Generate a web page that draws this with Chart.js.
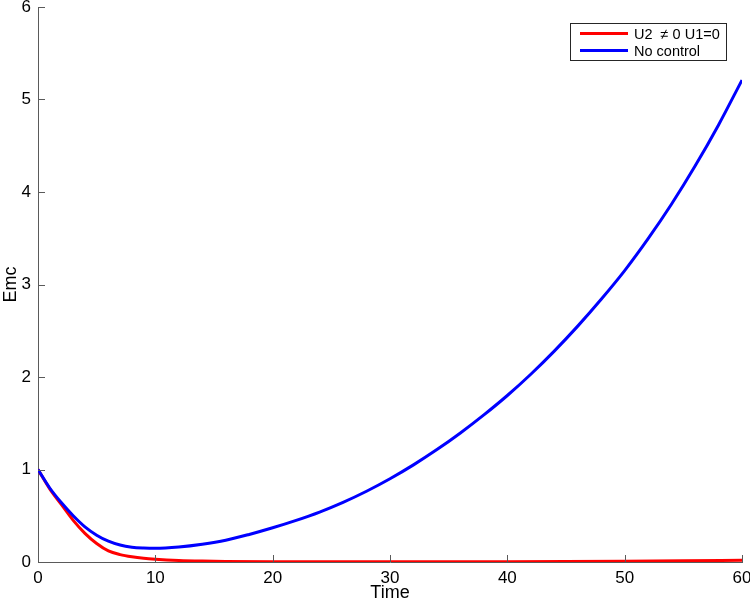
<!DOCTYPE html>
<html>
<head>
<meta charset="utf-8">
<script src="https://cdn.jsdelivr.net/npm/chart.js@4.4.1/dist/chart.umd.min.js"></script>
<style>
  html, body { margin: 0; padding: 0; background: #fff; }
  #wrap { width: 750px; height: 603px; }
</style>
</head>
<body>
<div id="wrap"><canvas id="emcChart" width="750" height="603"></canvas></div>
<script>
// Data
const timeBlue = [0, 1, 2, 3, 4, 5, 6, 7, 8, 9, 10, 12, 14, 16, 18, 20, 22, 24, 26, 28, 30, 32, 34, 36, 38, 40, 42, 44, 46, 48, 50, 52, 54, 56, 58, 60];
const noControl = [1.0, 0.80, 0.64, 0.50, 0.38, 0.29, 0.225, 0.183, 0.16, 0.151, 0.148, 0.162, 0.192, 0.235, 0.298, 0.37, 0.45, 0.54, 0.645, 0.765, 0.90, 1.05, 1.215, 1.395, 1.59, 1.80, 2.03, 2.28, 2.55, 2.84, 3.15, 3.495, 3.87, 4.28, 4.725, 5.21];

const timeRed = [0, 1, 2, 3, 4, 5, 6, 7, 8, 9, 10, 12, 14, 16, 20, 30, 40, 50, 55, 60];
const withU2 = [1.0, 0.79, 0.62, 0.45, 0.31, 0.20, 0.12, 0.08, 0.056, 0.04, 0.03, 0.017, 0.01, 0.006, 0.003, 0.002, 0.003, 0.008, 0.013, 0.02];

const xTicks = [0, 10, 20, 30, 40, 50, 60];
const yTicks = [0, 1, 2, 3, 4, 5, 6];

const labels = ['U2  \u2260 0 U1=0', 'No control'];
const colors = ['#ff0000', '#0000ff'];

const FONT = 'Liberation Sans, Arial, Helvetica, sans-serif';
const AXIS_COLOR = '#5a5a5a';

function toPoints(xs, ys) {
  return xs.map((x, i) => ({ x: x, y: ys[i] }));
}

// inward tick marks, MATLAB style
const inwardTicks = {
  id: 'inwardTicks',
  afterDatasetsDraw(chart) {
    const ctx = chart.ctx;
    const xs = chart.scales.x;
    const ys = chart.scales.y;
    const len = 7;
    ctx.save();
    ctx.strokeStyle = AXIS_COLOR;
    ctx.lineWidth = 1;
    ctx.beginPath();
    xTicks.forEach(v => {
      const px = Math.round(xs.getPixelForValue(v)) + 0.5;
      ctx.moveTo(px, ys.bottom);
      ctx.lineTo(px, ys.bottom - len);
    });
    yTicks.forEach(v => {
      const py = Math.round(ys.getPixelForValue(v)) + 0.5;
      ctx.moveTo(xs.left, py);
      ctx.lineTo(xs.left + len, py);
    });
    ctx.stroke();
    ctx.restore();
  }
};

// boxed legend in the upper right corner
const boxLegend = {
  id: 'boxLegend',
  afterDraw(chart) {
    const ctx = chart.ctx;
    const boxX = 570.5, boxY = 23.5, boxW = 156, boxH = 37;
    ctx.save();
    ctx.fillStyle = '#fff';
    ctx.fillRect(boxX, boxY, boxW, boxH);
    ctx.strokeStyle = '#262626';
    ctx.lineWidth = 1;
    ctx.strokeRect(boxX, boxY, boxW, boxH);
    ctx.font = '14.5px ' + FONT;
    ctx.textBaseline = 'middle';
    chart.data.datasets.forEach((ds) => {
      const ly = [33.5, 50.5][ds.legendRow];
      ctx.strokeStyle = ds.borderColor;
      ctx.lineWidth = 3;
      ctx.beginPath();
      ctx.moveTo(580, ly);
      ctx.lineTo(628, ly);
      ctx.stroke();
      ctx.fillStyle = '#000';
      ctx.fillText(ds.label, 634, ly + 1);
    });
    ctx.restore();
  }
};

new Chart(document.getElementById('emcChart'), {
  type: 'line',
  data: {
    datasets: [
      {
        label: labels[0],
        data: toPoints(timeRed, withU2),
        borderColor: colors[0],
        borderWidth: 3,
        pointRadius: 0,
        fill: false,
        cubicInterpolationMode: 'monotone',
        order: 1,
        legendRow: 0
      },
      {
        label: labels[1],
        data: toPoints(timeBlue, noControl),
        borderColor: colors[1],
        borderWidth: 3,
        pointRadius: 0,
        fill: false,
        cubicInterpolationMode: 'monotone',
        order: 0,
        legendRow: 1
      }
    ]
  },
  options: {
    responsive: false,
    animation: false,
    devicePixelRatio: 1,
    layout: { padding: { top: 7, right: 8, left: 0, bottom: 0 } },
    plugins: {
      legend: { display: false },
      tooltip: { enabled: false }
    },
    scales: {
      x: {
        type: 'linear',
        min: 0,
        max: 60,
        afterBuildTicks: (scale) => { scale.ticks = xTicks.map(v => ({ value: v })); },
        afterFit: (scale) => { scale.height = 41; scale.paddingLeft = 0; scale.paddingRight = 0; },
        grid: { display: false, drawTicks: false },
        border: { display: true, color: AXIS_COLOR, width: 1 },
        ticks: {
          color: '#000',
          font: { family: FONT, size: 17 },
          padding: 6,
          maxRotation: 0
        },
        title: {
          display: true,
          text: 'Time',
          color: '#000',
          font: { family: FONT, size: 18 },
          padding: { top: 0, bottom: -1 }
        }
      },
      y: {
        type: 'linear',
        min: 0,
        max: 6,
        afterBuildTicks: (scale) => { scale.ticks = yTicks.map(v => ({ value: v })); },
        afterFit: (scale) => { scale.width = 38; scale.paddingTop = 0; scale.paddingBottom = 0; },
        grid: { display: false, drawTicks: false },
        border: { display: true, color: AXIS_COLOR, width: 1 },
        ticks: {
          color: '#000',
          font: { family: FONT, size: 17 },
          padding: 7
        },
        title: {
          display: true,
          text: 'Emc',
          color: '#000',
          font: { family: FONT, size: 18 },
          padding: { top: 0, bottom: 0 }
        }
      }
    }
  },
  plugins: [inwardTicks, boxLegend]
});
</script>
</body>
</html>
